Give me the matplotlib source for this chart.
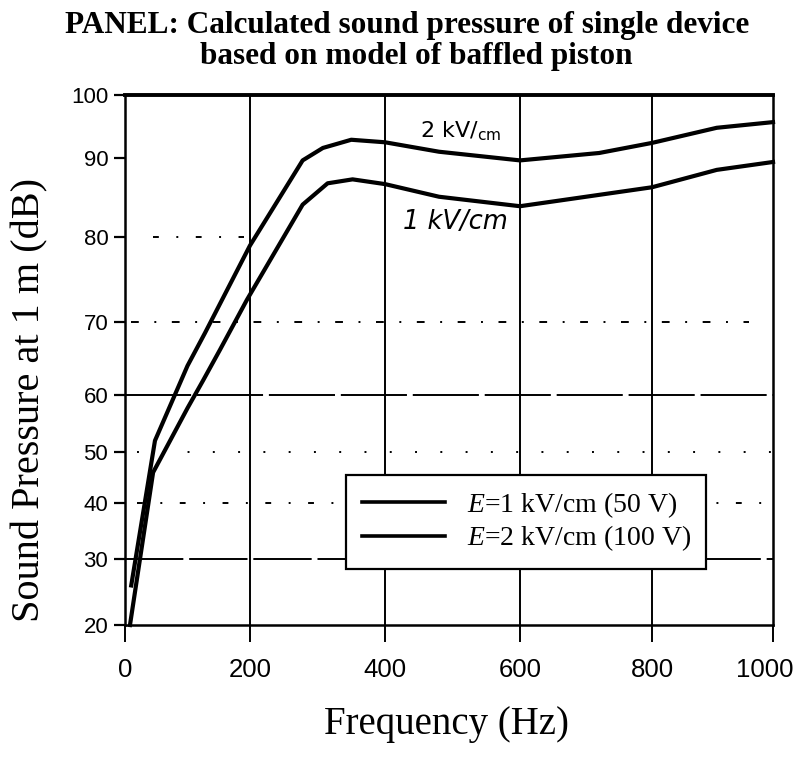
import numpy as np
import matplotlib
matplotlib.use("Agg")
import matplotlib.pyplot as plt
from matplotlib.transforms import ScaledTranslation

# frequency response of a single device (baffled piston model)
freq_2kv = [10, 48, 100, 128, 200, 278, 308, 350, 400, 480, 600, 720, 800, 907, 1000]
spl_2kv = [26, 52, 64, 68.5, 79, 89.7, 91.6, 92.9, 92.5, 91.0, 89.7, 90.8, 92.4, 94.8, 95.7]

freq_1kv = [8, 45, 100, 125, 152, 195, 278, 315, 352, 400, 480, 600, 800, 907, 1000]
spl_1kv = [20, 46, 57.7, 62, 66.2, 72.6, 84.1, 86.8, 87.3, 86.7, 85.1, 83.9, 86.3, 88.5, 89.5]

x_ticks = [0, 200, 400, 600, 800, 1000]
y_ticks = [20, 30, 40, 50, 60, 70, 80, 90, 100]

labels = ['$E$=1 kV/cm (50 V)', '$E$=2 kV/cm (100 V)']

# uneven axis spacing of the printed grid (pixel offsets of each tick)
x_pix = [0, 125, 260, 395, 527, 648]
y_pix = [0, 66, 122, 173, 230, 303, 388, 467, 530]

narrow = ['Liberation Sans Narrow', 'DejaVu Sans Condensed', 'Liberation Sans']


def x_fwd(v):
    return np.interp(v, x_ticks, x_pix)


def x_inv(p):
    return np.interp(p, x_pix, x_ticks)


def y_fwd(v):
    return np.interp(v, y_ticks, y_pix)


def y_inv(p):
    return np.interp(p, y_pix, y_ticks)


plt.rcParams['mathtext.fontset'] = 'custom'
plt.rcParams['mathtext.rm'] = 'Liberation Serif'
plt.rcParams['mathtext.it'] = 'Liberation Serif:italic'

fig = plt.figure(figsize=(7.93, 7.59), dpi=100)
ax = fig.add_axes([0.1576, 0.1765, 0.8172, 0.6983])
ax.set_xscale('function', functions=(x_fwd, x_inv))
ax.set_yscale('function', functions=(y_fwd, y_inv))
ax.set_xlim(0, 1000)
ax.set_ylim(20, 100)

# horizontal grid, each level drawn in its own broken style
grid_specs = [
    (30, 0, 1000, (0, (30, 3))),
    (40, 20, 1000, (0, (3, 9, 1, 9))),
    (50, 20, 1000, (0, (1, 12))),
    (60, 0, 1000, (0, (34, 3))),
    (70, 10, 960, (0, (4, 8, 1, 8))),
    (80, 45, 190, (0, (3, 9, 1, 9))),
]
for level, x0, x1, ls in grid_specs:
    ax.hlines(level, x0, x1, colors='black', linewidth=1.4, linestyles=[ls], zorder=1)

for xv in x_ticks[1:-1]:
    ax.axvline(xv, color='black', linewidth=1.4, zorder=1)

ax.plot(freq_1kv, spl_1kv, color='black', linewidth=3.0, label=labels[0], zorder=3,
        solid_joinstyle='round', clip_on=False)
ax.plot(freq_2kv, spl_2kv, color='black', linewidth=3.0, label=labels[1], zorder=3,
        solid_joinstyle='round', clip_on=False)

ax.text(452, 94.3, r'2 kV/$_{\mathregular{cm}}$', fontsize=16, family='DejaVu Sans',
        va='center', ha='left')
ax.text(427, 81.9, '1 kV/cm', fontsize=18.5, family='DejaVu Sans', style='italic',
        va='center', ha='left')

for side in ['left', 'right', 'bottom']:
    ax.spines[side].set_linewidth(1.8)
ax.spines['top'].set_linewidth(2.8)

ax.set_xticks(x_ticks)
ax.set_yticks(y_ticks)
ax.set_xticklabels([str(t) for t in x_ticks], family=narrow, fontsize=18.5)
ax.set_yticklabels([str(t) for t in y_ticks], family=narrow, fontsize=16)
ax.tick_params(axis='x', direction='out', length=12, width=1.4, pad=12)
ax.tick_params(axis='y', direction='out', length=8, width=1.6, pad=4)

# nudge the "1000" label left so it stays on the canvas
last = ax.xaxis.get_major_ticks()[-1].label1
last.set_transform(last.get_transform() + ScaledTranslation(-6 / 72, 0, fig.dpi_scale_trans))

leg = ax.legend(loc='lower left', bbox_to_anchor=(0.32, 0.08), frameon=True,
                fancybox=False, handlelength=3.0, handletextpad=0.8, borderpad=0.55,
                labelspacing=0.15, prop={'family': 'Liberation Serif', 'size': 20})
leg.get_frame().set_edgecolor('black')
leg.get_frame().set_linewidth(1.6)
leg.get_frame().set_facecolor('white')
leg.get_frame().set_alpha(1.0)
for line in leg.get_lines():
    line.set_linewidth(2.6)

fig.text(0.513, 0.967, 'PANEL: Calculated sound pressure of single device', ha='center',
         va='center', fontsize=22.5, fontweight='bold', family='Liberation Serif')
fig.text(0.525, 0.925, 'based on model of baffled piston', ha='center', va='center',
         fontsize=22.5, fontweight='bold', family='Liberation Serif')

fig.text(0.038, 0.473, 'Sound Pressure at 1 m (dB)', rotation=90, ha='center', va='center',
         fontsize=29, family='Liberation Serif')
fig.text(0.563, 0.045, 'Frequency (Hz)', ha='center', va='center', fontsize=28,
         family='Liberation Serif')

fig.savefig('out.png', dpi=100)
